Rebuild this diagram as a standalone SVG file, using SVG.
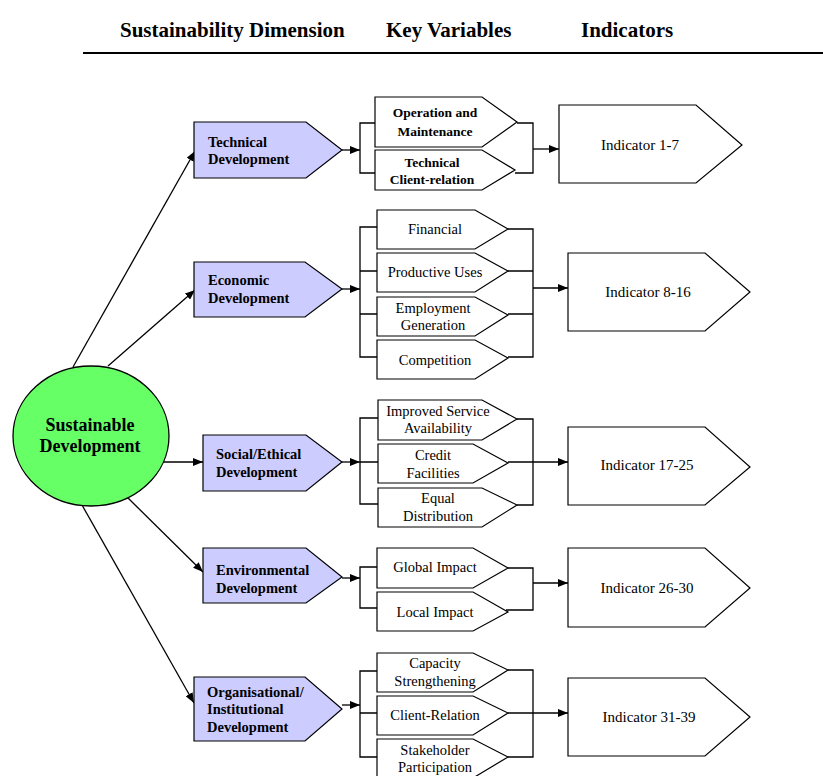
<svg xmlns="http://www.w3.org/2000/svg" width="823" height="776" viewBox="0 0 823 776">
<style>
text{font-family:"Liberation Serif","Times New Roman",serif;fill:#000}
.hd{font-size:21px;font-weight:bold}
.dim{fill:#ccccff;stroke:#000;stroke-width:1.2}
.dt{font-size:14.5px;font-weight:bold}
.kv{fill:#fff;stroke:#000;stroke-width:1.2}
.kt{font-size:14.5px;text-anchor:middle}
.kb{font-size:13.5px;font-weight:bold;text-anchor:middle}
.ind{fill:#fff;stroke:#000;stroke-width:1.2}
.it{font-size:15px;text-anchor:middle}
.c{fill:none;stroke:#000;stroke-width:1.3}
.a{fill:none;stroke:#000;stroke-width:1.3;marker-end:url(#ah)}
</style>
<defs>
<marker id="ah" markerUnits="userSpaceOnUse" markerWidth="10" markerHeight="8" refX="10" refY="4" orient="auto">
<path d="M0,0 L10,4 L0,8 z" fill="#000"/>
</marker>
</defs>
<rect width="823" height="776" fill="#fff"/>
<g id="header">
<text class="hd" x="120" y="37">Sustainability Dimension</text>
<text class="hd" x="386" y="37">Key Variables</text>
<text class="hd" x="581" y="37">Indicators</text>
<path d="M83,53 H823" stroke="#000" stroke-width="2"/>
</g>
<g id="connectors">
<path class="a" d="M73,367 L195,151"/>
<path class="a" d="M108,366 L195,290"/>
<path class="a" d="M163,462 L203,462"/>
<path class="a" d="M127,497 L203,572"/>
<path class="a" d="M82,505 L194,703"/>
<path class="a" d="M342,150 H360"/>
<path class="c" d="M375,123 H360 V173 H375"/>
<path class="c" d="M517,123 H533 V173 H515"/>
<path class="a" d="M533,149 H559"/>
<path class="a" d="M342,289 H360"/>
<path class="c" d="M377,227 H360 V357 H377 M360,271 H377 M360,314 H377"/>
<path class="c" d="M508,229 H533 V357 H508 M508,271 H533 M508,314 H533"/>
<path class="a" d="M533,288 H568"/>
<path class="a" d="M342,462 H360"/>
<path class="c" d="M378,418 H360 V504 H378 M360,462 H378"/>
<path class="c" d="M517,419 H533 V505 H517"/>
<path class="a" d="M508,462 H568"/>
<path class="a" d="M342,578 H360"/>
<path class="c" d="M377,567 H360 V608 H377"/>
<path class="c" d="M508,568 H533 V610 H506"/>
<path class="a" d="M533,583 H568"/>
<path class="a" d="M342,705 H360"/>
<path class="c" d="M377,671 H360 V757 H377 M360,713 H377"/>
<path class="c" d="M508,670 H533 V757 H508"/>
<path class="a" d="M508,713 H568"/>
</g>
<g id="sustainable">
<ellipse cx="91" cy="436" rx="78" ry="70" fill="#66ff66" stroke="#000" stroke-width="1.3"/>
<text x="90" y="431" font-size="18" font-weight="bold" text-anchor="middle">Sustainable</text>
<text x="90" y="452" font-size="18" font-weight="bold" text-anchor="middle">Development</text>
</g>
<g id="technical">
<polygon class="dim" points="194,122 306,122 342,150 306,178 194,178"/>
<text class="dt" x="208" y="147">Technical</text>
<text class="dt" x="208" y="164">Development</text>
</g>
<g id="economic">
<polygon class="dim" points="194,262 305,262 342,289 305,317 194,317"/>
<text class="dt" x="208" y="285">Economic</text>
<text class="dt" x="208" y="303">Development</text>
</g>
<g id="social">
<polygon class="dim" points="203,435 306,435 342,462 306,491 203,491"/>
<text class="dt" x="216" y="459">Social/Ethical</text>
<text class="dt" x="216" y="477">Development</text>
</g>
<g id="environmental">
<polygon class="dim" points="203,548 306,548 342,577 306,603 203,603"/>
<text class="dt" x="216" y="575">Environmental</text>
<text class="dt" x="216" y="593">Development</text>
</g>
<g id="organisational">
<polygon class="dim" points="194,677 305,677 342,709 305,741 194,741"/>
<text class="dt" x="207" y="697">Organisational/</text>
<text class="dt" x="207" y="714">Institutional</text>
<text class="dt" x="207" y="732">Development</text>
</g>
<g id="kv-operation">
<polygon class="kv" points="375,97 482,97 517,122 482,147 375,147"/>
<text class="kb" x="435" y="117">Operation and</text>
<text class="kb" x="435" y="136">Maintenance</text>
</g>
<g id="kv-techclient">
<polygon class="kv" points="375,150 482,150 515,170 482,190 375,190"/>
<text class="kb" x="432" y="167">Technical</text>
<text class="kb" x="432" y="184">Client-relation</text>
</g>
<g id="kv-financial">
<polygon class="kv" points="377,210 475,210 508,229 475,249 377,249"/>
<text class="kt" x="435" y="234">Financial</text>
</g>
<g id="kv-productive">
<polygon class="kv" points="377,253 475,253 508,271 475,292 377,292"/>
<text class="kt" x="435" y="277">Productive Uses</text>
</g>
<g id="kv-employment">
<polygon class="kv" points="377,297 475,297 508,315 475,336 377,336"/>
<text class="kt" x="433" y="313">Employment</text>
<text class="kt" x="433" y="330">Generation</text>
</g>
<g id="kv-competition">
<polygon class="kv" points="377,340 475,340 508,358 475,379 377,379"/>
<text class="kt" x="435" y="365">Competition</text>
</g>
<g id="kv-improved">
<polygon class="kv" points="378,400 482,400 517,419 482,440 378,440"/>
<text class="kt" x="438" y="416">Improved Service</text>
<text class="kt" x="438" y="433">Availability</text>
</g>
<g id="kv-credit">
<polygon class="kv" points="378,444 473,444 508,463 473,483 378,483"/>
<text class="kt" x="433" y="460">Credit</text>
<text class="kt" x="433" y="478">Facilities</text>
</g>
<g id="kv-equal">
<polygon class="kv" points="378,488 482,488 517,505 482,527 378,527"/>
<text class="kt" x="438" y="503">Equal</text>
<text class="kt" x="438" y="521">Distribution</text>
</g>
<g id="kv-global">
<polygon class="kv" points="377,548 473,548 508,568 473,588 377,588"/>
<text class="kt" x="435" y="572">Global Impact</text>
</g>
<g id="kv-local">
<polygon class="kv" points="377,592 473,592 508,612 473,631 377,631"/>
<text class="kt" x="435" y="617">Local Impact</text>
</g>
<g id="kv-capacity">
<polygon class="kv" points="377,653 473,653 508,670 473,692 377,692"/>
<text class="kt" x="435" y="668">Capacity</text>
<text class="kt" x="435" y="686">Strengthening</text>
</g>
<g id="kv-clientrelation">
<polygon class="kv" points="377,696 473,696 508,713 473,735 377,735"/>
<text class="kt" x="435" y="720">Client-Relation</text>
</g>
<g id="kv-stakeholder">
<polygon class="kv" points="377,739 473,739 508,757 473,778 377,778"/>
<text class="kt" x="435" y="755">Stakeholder</text>
<text class="kt" x="435" y="772">Participation</text>
</g>
<g id="ind-1-7">
<polygon class="ind" points="559,105 696,105 742,145 696,183 559,183"/>
<text class="it" x="640" y="150">Indicator 1-7</text>
</g>
<g id="ind-8-16">
<polygon class="ind" points="568,253 705,253 750,292 705,331 568,331"/>
<text class="it" x="648" y="297">Indicator 8-16</text>
</g>
<g id="ind-17-25">
<polygon class="ind" points="568,427 705,427 750,467 705,505 568,505"/>
<text class="it" x="647" y="470">Indicator 17-25</text>
</g>
<g id="ind-26-30">
<polygon class="ind" points="568,548 705,548 750,588 705,627 568,627"/>
<text class="it" x="647" y="593">Indicator 26-30</text>
</g>
<g id="ind-31-39">
<polygon class="ind" points="568,678 705,678 750,717 705,756 568,756"/>
<text class="it" x="649" y="722">Indicator 31-39</text>
</g>
</svg>
